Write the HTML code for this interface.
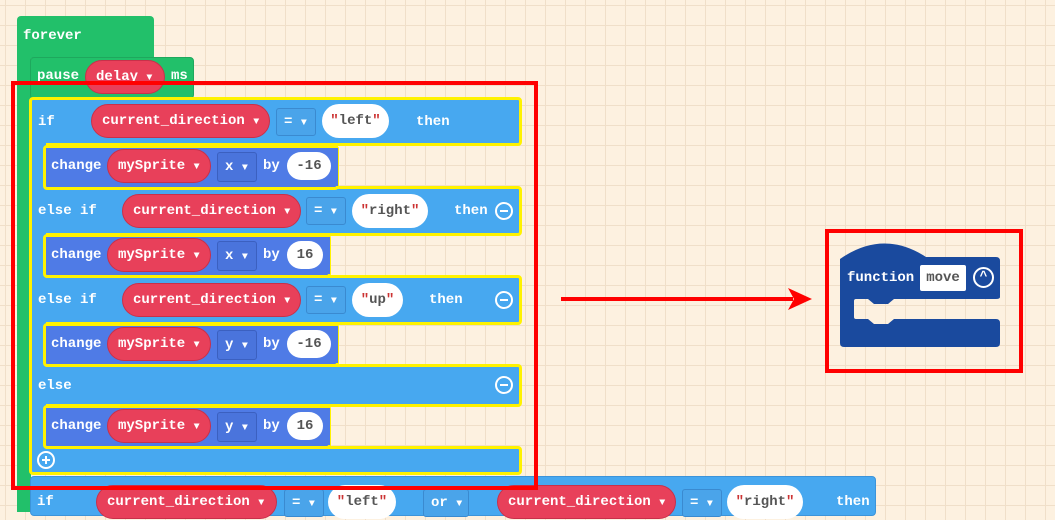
<!DOCTYPE html>
<html><head><meta charset="utf-8"><style>
body{margin:0;width:1055px;height:512px;overflow:hidden;position:relative;
background-color:#fdf1e0;
background-image:linear-gradient(#f0dfc9 1px,transparent 1px),linear-gradient(90deg,#f0dfc9 1px,transparent 1px);
background-size:20px 20px;background-position:5px 5px;
font-family:"Liberation Mono",monospace;font-weight:bold;font-size:14px;color:#fff}
div{position:absolute;box-sizing:border-box}
.t{white-space:nowrap;line-height:20px}
.g{background:#22c06a}
.lb{background:#47a8f0}
.db{background:#4f7be6}
.pill{background:#e8405a;border-radius:18px;border:1px solid #c8304a;height:34px;line-height:32px;padding-left:10px;white-space:nowrap}
.op{background:#4aa4ea;border:1px solid #3a8ad0;border-radius:3px;height:28px;line-height:26px;padding-left:7px}
.dop{background:#4a74dc;border:1px solid #3b60c0;border-radius:3px;height:30px;line-height:28px;padding-left:7px}
.str{background:#fff;border-radius:18px;color:#555;height:34px;line-height:34px;text-align:center}
.num{background:#fff;border-radius:14px;color:#555;height:28px;line-height:28px;text-align:center}
.q{color:#c33}
.a{font-size:10px}
.yel{border:3px solid #fff200;border-radius:4px}
.circ{width:18px;height:18px;border:2px solid #fff;border-radius:50%}
.circ:after{content:"";position:absolute;left:3px;top:6px;width:8px;height:2px;background:#fff}
.plus:before{content:"";position:absolute;left:6px;top:3px;width:2px;height:8px;background:#fff}
</style></head><body>
<!-- forever -->
<div class="g" style="left:17px;top:16px;width:137px;height:42px;border-radius:4px 4px 0 0"></div>
<div class="t" style="left:23px;top:26px">forever</div>
<div class="g" style="left:17px;top:50px;width:14px;height:462px"></div>
<div class="g" style="left:30px;top:57px;width:164px;height:42px;border:1px solid #1ea85d;border-radius:4px"></div>
<div class="t" style="left:37px;top:66px">pause</div>
<div class="pill" style="left:85px;top:60px;width:80px">delay <span class="a">▼</span></div>
<div class="t" style="left:171px;top:66px">ms</div>

<!-- big if block -->
<div class="lb yel" style="left:29px;top:97px;width:493px;height:49px"></div>
<div class="lb" style="left:29px;top:140px;width:17px;height:320px;border-left:3px solid #fff200"></div>
<div class="lb yel" style="left:29px;top:186px;width:493px;height:50px"></div>
<div class="lb yel" style="left:29px;top:275px;width:493px;height:50px"></div>
<div class="lb yel" style="left:29px;top:364px;width:493px;height:43px"></div>
<div class="lb yel" style="left:29px;top:446px;width:493px;height:29px"></div>
<div class="lb" style="left:32px;top:140px;width:14px;height:320px"></div>

<!-- if row -->
<div class="t" style="left:38px;top:112px">if</div>
<div class="pill" style="left:91px;top:104px;width:179px">current_direction <span class="a">▼</span></div>
<div class="op" style="left:276px;top:108px;width:40px">= <span class="a">▼</span></div>
<div class="str" style="left:322px;top:104px;width:67px"><span class="q">"</span>left<span class="q">"</span></div>
<div class="t" style="left:416px;top:112px">then</div>

<!-- change rows -->
<div class="db yel" style="left:43px;top:145px;width:296px;height:45px"></div>
<div class="db" style="left:46px;top:148px;width:292px;height:38px"></div>
<div class="t" style="left:51px;top:156px">change</div>
<div class="pill" style="left:107px;top:149px;width:104px">mySprite <span class="a">▼</span></div>
<div class="dop" style="left:217px;top:152px;width:40px">x <span class="a">▼</span></div>
<div class="t" style="left:263px;top:156px">by</div>
<div class="num" style="left:287px;top:152px;width:44px">-16</div>

<div class="t" style="left:38px;top:201px">else if</div>
<div class="pill" style="left:122px;top:194px;width:179px">current_direction <span class="a">▼</span></div>
<div class="op" style="left:306px;top:197px;width:40px">= <span class="a">▼</span></div>
<div class="str" style="left:352px;top:194px;width:76px"><span class="q">"</span>right<span class="q">"</span></div>
<div class="t" style="left:454px;top:201px">then</div>
<div class="circ" style="left:495px;top:202px"></div>

<div class="db yel" style="left:43px;top:234px;width:288px;height:44px"></div>
<div class="db" style="left:46px;top:237px;width:284px;height:37px"></div>
<div class="t" style="left:51px;top:245px">change</div>
<div class="pill" style="left:107px;top:238px;width:104px">mySprite <span class="a">▼</span></div>
<div class="dop" style="left:217px;top:241px;width:40px">x <span class="a">▼</span></div>
<div class="t" style="left:263px;top:245px">by</div>
<div class="num" style="left:287px;top:241px;width:36px">16</div>

<div class="t" style="left:38px;top:290px">else if</div>
<div class="pill" style="left:122px;top:283px;width:179px">current_direction <span class="a">▼</span></div>
<div class="op" style="left:306px;top:286px;width:40px">= <span class="a">▼</span></div>
<div class="str" style="left:352px;top:283px;width:51px"><span class="q">"</span>up<span class="q">"</span></div>
<div class="t" style="left:429px;top:290px">then</div>
<div class="circ" style="left:495px;top:291px"></div>

<div class="db yel" style="left:43px;top:323px;width:296px;height:44px"></div>
<div class="db" style="left:46px;top:326px;width:292px;height:37px"></div>
<div class="t" style="left:51px;top:334px">change</div>
<div class="pill" style="left:107px;top:327px;width:104px">mySprite <span class="a">▼</span></div>
<div class="dop" style="left:217px;top:330px;width:40px">y <span class="a">▼</span></div>
<div class="t" style="left:263px;top:334px">by</div>
<div class="num" style="left:287px;top:330px;width:44px">-16</div>

<div class="t" style="left:38px;top:376px">else</div>
<div class="circ" style="left:495px;top:376px"></div>

<div class="db yel" style="left:43px;top:405px;width:288px;height:44px"></div>
<div class="db" style="left:46px;top:408px;width:284px;height:37px"></div>
<div class="t" style="left:51px;top:416px">change</div>
<div class="pill" style="left:107px;top:409px;width:104px">mySprite <span class="a">▼</span></div>
<div class="dop" style="left:217px;top:412px;width:40px">y <span class="a">▼</span></div>
<div class="t" style="left:263px;top:416px">by</div>
<div class="num" style="left:287px;top:412px;width:36px">16</div>

<div class="circ plus" style="left:37px;top:451px"></div>

<!-- second if -->
<div class="lb" style="left:30px;top:476px;width:846px;height:40px;border-radius:4px;border:1px solid #3c94da"></div>
<div class="t" style="left:37px;top:492px">if</div>
<div class="pill" style="left:96px;top:485px;width:181px">current_direction <span class="a">▼</span></div>
<div class="op" style="left:284px;top:489px;width:40px">= <span class="a">▼</span></div>
<div class="str" style="left:328px;top:485px;width:68px"><span class="q">"</span>left<span class="q">"</span></div>
<div class="op" style="left:423px;top:489px;width:46px">or <span class="a">▼</span></div>
<div class="pill" style="left:497px;top:485px;width:179px">current_direction <span class="a">▼</span></div>
<div class="op" style="left:682px;top:489px;width:40px">= <span class="a">▼</span></div>
<div class="str" style="left:727px;top:485px;width:76px"><span class="q">"</span>right<span class="q">"</span></div>
<div class="t" style="left:836px;top:492px">then</div>

<!-- red highlight -->
<div style="left:11px;top:81px;width:527px;height:409px;border:4px solid #ff0000"></div>

<!-- arrow -->
<div style="left:561px;top:297px;width:232px;height:4px;background:#ff0000"></div>
<svg style="position:absolute;left:788px;top:288px" width="24" height="22"><polygon points="0,0 24,11 0,22 6,11" fill="#ff0000"/></svg>

<!-- function -->
<svg style="position:absolute;left:838px;top:241px" width="165" height="108">
<path d="M2,18 Q45,-12 88,16 L158,16 Q162,16 162,20 L162,56 Q162,58 158,58 L56,58 L50,63 L36,63 L30,58 L18,58 Q16,58 16,60 L16,76 Q16,78 18,78 L30,78 L36,83 L50,83 L56,78 L158,78 Q162,78 162,82 L162,102 Q162,106 158,106 L6,106 Q2,106 2,102 Z" fill="#1a4a9e"/>
</svg>
<div class="t" style="left:847px;top:268px">function</div>
<div style="left:920px;top:265px;width:46px;height:26px;background:#fff;border-radius:2px;color:#555;line-height:26px;text-align:center">move</div>
<div style="left:973px;top:267px;width:21px;height:21px;border:2px solid #fff;border-radius:50%;text-align:center;line-height:16px;font-size:13px">^</div>
<div style="left:825px;top:229px;width:198px;height:144px;border:4px solid #ff0000"></div>
</body></html>
